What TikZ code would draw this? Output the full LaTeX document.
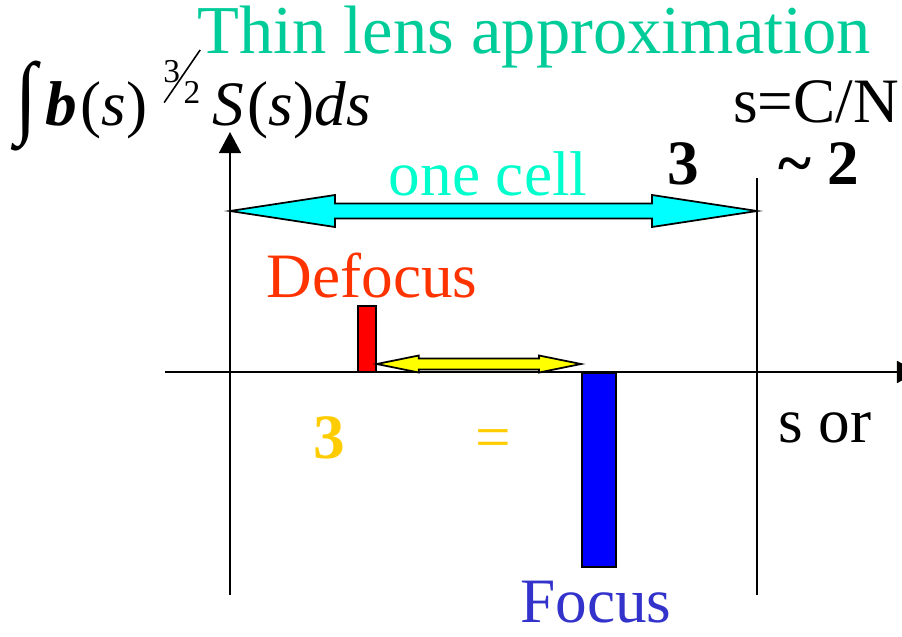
\documentclass[tikz,border=0pt]{standalone}
\usepackage{fontspec}
\setmainfont{Liberation Serif}
\usetikzlibrary{arrows.meta,calc}

\definecolor{titleteal}{RGB}{0,204,153}
\definecolor{cellgreen}{RGB}{0,255,204}
\definecolor{cellcyan}{RGB}{0,255,255}
\definecolor{defocred}{RGB}{255,51,0}
\definecolor{focusblue}{RGB}{51,51,204}
\definecolor{signgold}{RGB}{255,204,0}
\definecolor{lensred}{RGB}{255,0,0}
\definecolor{lensblue}{RGB}{0,0,255}
\definecolor{gapyellow}{RGB}{255,255,0}

% block double arrow: from, to, shaft half, head half, head length, fill
\newcommand{\blockarrow}[6]{%
  \draw[fill=#6, line width=1pt, line join=miter]
    (#1) -- ($(#1)+(#5,#4)$) -- ($(#1)+(#5,#3)$) -- ($(#2)+(-#5,#3)$)
    -- ($(#2)+(-#5,#4)$) -- (#2) -- ($(#2)+(-#5,-#4)$) -- ($(#2)+(-#5,-#3)$)
    -- ($(#1)+(#5,-#3)$) -- ($(#1)+(#5,-#4)$) -- cycle;}

\begin{document}
\begin{tikzpicture}[x=0.02cm, y=-0.02cm,
    lbl/.style={inner sep=0pt, anchor=base west, font=\fontsize{36}{40}\selectfont},
    axis/.style={line width=1.1pt, -{Triangle[length=12pt,width=12.5pt]}},
    bar/.style={draw, line width=1pt, inner sep=0pt}]
  \clip (0,0) rectangle (902,636);

  % axes and cell boundary
  \coordinate (ybot) at (230,595);
  \coordinate (ytop) at (230,132);
  \coordinate (xleft) at (165,372);
  \coordinate (xright) at (918,372);
  \coordinate (ctop) at (757,178);
  \coordinate (cbot) at (757,595);
  \draw[axis] (ybot) -- (ytop);
  \draw[axis] (xleft) -- (xright);
  \draw[line width=1.1pt] (cbot) -- (ctop);

  % texts
  \node[lbl, font=\fontsize{39}{42}\selectfont, text=titleteal] (title) at (197,53) {Thin lens approximation};
  \node[lbl] (flux) at (15,125) {\raisebox{-1pt}{\scalebox{1.25}[1.45]{∫}}\hspace{5pt}{\bfseries\itshape b}\hspace{2pt}(\textit{s})\hspace{9pt}%
    \rlap{\raisebox{24pt}{\fontsize{19}{19}\selectfont 3}}%
    \rlap{\raisebox{12.5pt}{\rotatebox{55.6}{\rule{36.3pt}{0.9pt}}}}%
    \hspace{11.4pt}\raisebox{12pt}{\fontsize{19}{19}\selectfont 2}\hspace{7pt}\textit{S}\hspace{2pt}(\textit{s})\textit{ds}};
  \node[lbl] (ratio) at (733,122) {s=C/N};
  \node[lbl, font=\fontsize{36}{40}\selectfont\bfseries] (cellthree) at (667,184) {3};
  \node[lbl, font=\fontsize{36}{40}\selectfont\bfseries] (approxtwo) at (778,184) {\textasciitilde\ 2};
  \node[lbl, anchor=base, text=cellgreen] (onecell) at (488,195) {one cell};
  \node[lbl, anchor=base, text=defocred] (defocus) at (372,297) {Defocus};
  \node[lbl, anchor=base, text=focusblue] (focus) at (596,622) {Focus};
  \node[lbl, font=\fontsize{36}{40}\selectfont\bfseries, text=signgold] (goldthree) at (313,458) {3};
  \node[lbl, text=signgold] (equals) at (475,458) {=};
  \node[lbl] (sor) at (778,442) {s or};

  % lenses
  \node[bar, fill=lensred, minimum width=0.36cm, minimum height=1.32cm, anchor=south west] (defbar) at (357,373) {};
  \node[bar, fill=lensblue, minimum width=0.68cm, minimum height=3.88cm, anchor=north west] (focbar) at (581,372) {};

  % arrows
  \coordinate (cellleft) at (230,211);
  \coordinate (cellright) at (ctop |- cellleft);
  \blockarrow{cellleft}{cellright}{7.5}{16}{105}{cellcyan}
  \coordinate (gapleft) at ([yshift=0.18cm]defbar.south east);
  \coordinate (gapright) at (focbar.west |- gapleft);
  \blockarrow{gapleft}{gapright}{5.5}{8.5}{42}{gapyellow}
\end{tikzpicture}
\end{document}
